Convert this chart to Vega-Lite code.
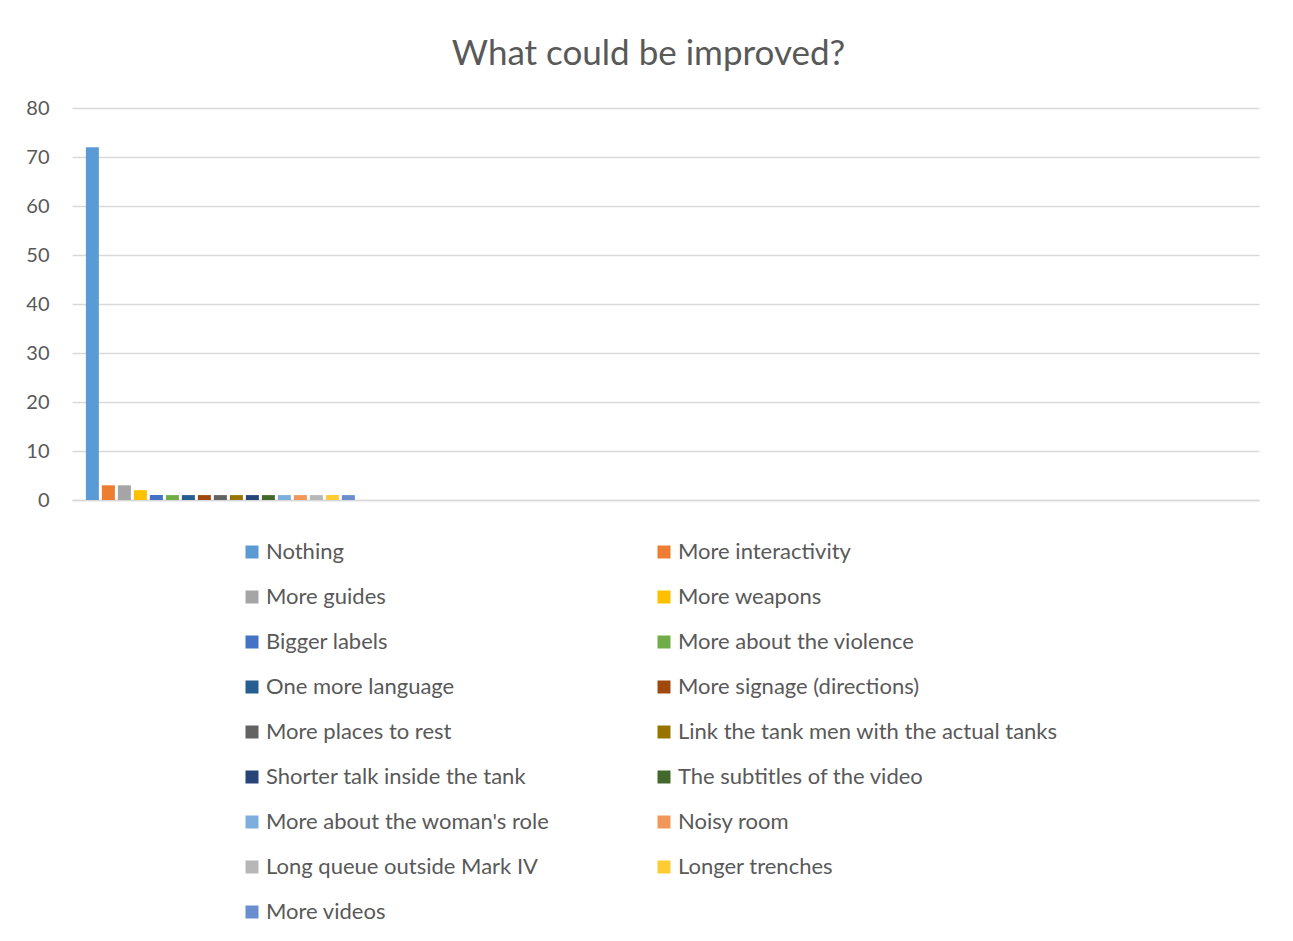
{
  "$schema": "https://vega.github.io/schema/vega-lite/v6.json",
  "autosize": "none",
  "width": 1187,
  "height": 392,
  "padding": {"left": 72, "top": 108, "right": 34, "bottom": 441},
  "background": "white",
  "title": {
    "text": "What could be improved?",
    "anchor": "middle",
    "frame": "group",
    "dx": -17,
    "offset": 26,
    "fontSize": 35,
    "font": "Lato",
    "fontWeight": "normal",
    "color": "#595959"
  },
  "data": {
    "values": [
      {"cat": "1", "series": "Nothing", "value": 72},
      {"cat": "1", "series": "More interactivity", "value": 3},
      {"cat": "1", "series": "More guides", "value": 3},
      {"cat": "1", "series": "More weapons", "value": 2},
      {"cat": "1", "series": "Bigger labels", "value": 1},
      {"cat": "1", "series": "More about the violence", "value": 1},
      {"cat": "1", "series": "One more language", "value": 1},
      {"cat": "1", "series": "More signage (directions)", "value": 1},
      {"cat": "1", "series": "More places to rest", "value": 1},
      {"cat": "1", "series": "Link the tank men with the actual tanks", "value": 1},
      {"cat": "1", "series": "Shorter talk inside the tank", "value": 1},
      {"cat": "1", "series": "The subtitles of the video", "value": 1},
      {"cat": "1", "series": "More about the woman's role", "value": 1},
      {"cat": "1", "series": "Noisy room", "value": 1},
      {"cat": "1", "series": "Long queue outside Mark IV", "value": 1},
      {"cat": "1", "series": "Longer trenches", "value": 1},
      {"cat": "1", "series": "More videos", "value": 1}
    ]
  },
  "mark": {"type": "bar"},
  "encoding": {
    "x": {
      "field": "cat",
      "type": "nominal",
      "scale": {"domain": ["1", "2", "3", "4"], "paddingInner": 0, "paddingOuter": 0},
      "axis": {"labels": false, "ticks": false, "title": null, "domainColor": "#d9d9d9", "domainWidth": 1.5}
    },
    "xOffset": {
      "field": "series",
      "type": "nominal",
      "sort": null,
      "scale": {"paddingInner": 0.1875, "paddingOuter": 0.867}
    },
    "y": {
      "field": "value",
      "type": "quantitative",
      "scale": {"domain": [0, 80], "nice": false},
      "axis": {
        "title": null,
        "values": [0, 10, 20, 30, 40, 50, 60, 70, 80],
        "domain": false,
        "ticks": false,
        "labelFont": "Lato",
        "labelFontSize": 20,
        "labelColor": "#595959",
        "labelPadding": 23,
        "gridColor": "#d9d9d9",
        "gridWidth": 1.3
      }
    },
    "color": {
      "field": "series",
      "type": "nominal",
      "sort": null,
      "scale": {
        "domain": ["Nothing", "More interactivity", "More guides", "More weapons", "Bigger labels", "More about the violence", "One more language", "More signage (directions)", "More places to rest", "Link the tank men with the actual tanks", "Shorter talk inside the tank", "The subtitles of the video", "More about the woman's role", "Noisy room", "Long queue outside Mark IV", "Longer trenches", "More videos"],
        "range": ["#5B9BD5", "#ED7D31", "#A5A5A5", "#FFC000", "#4472C4", "#70AD47", "#255E91", "#9E480E", "#636363", "#997300", "#264478", "#43682B", "#7CAFDD", "#F1975A", "#B7B7B7", "#FFCD33", "#698ED0"]
      },
      "legend": {
        "orient": "none",
        "legendX": 169,
        "legendY": 433,
        "direction": "horizontal",
        "columns": 2,
        "gridAlign": "all",
        "title": null,
        "symbolType": "square",
        "symbolSize": 169,
        "symbolStrokeWidth": 0,
        "labelFont": "Lato",
        "labelFontSize": 22,
        "labelColor": "#595959",
        "labelLimit": 600,
        "labelOffset": 3,
        "rowPadding": 23,
        "columnPadding": 7
      }
    }
  },
  "config": {"view": {"stroke": null}}
}
